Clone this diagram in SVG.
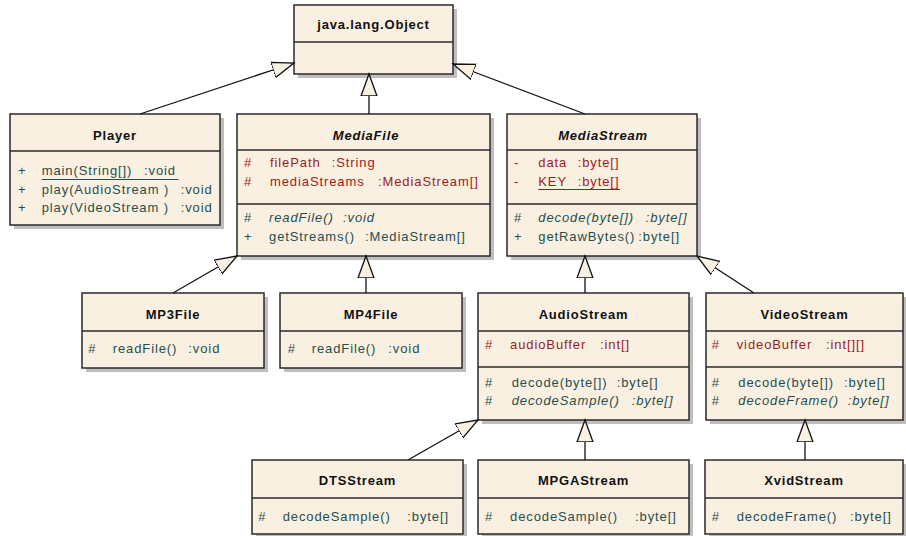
<svg xmlns="http://www.w3.org/2000/svg" width="906" height="536" viewBox="0 0 906 536">
<defs>
<style>
.sh{fill:#BEBEBE}
.bx{fill:#FAF0E1;stroke:#2A2A2A;stroke-width:1.5}
.dv{stroke:#2A2A2A;stroke-width:1.5}
.t{font-family:"Liberation Sans",Arial,sans-serif;font-size:13px;font-weight:bold;letter-spacing:0.8px;text-anchor:middle;fill:#111}
.ti{font-style:italic}
.a{font-family:"Liberation Sans",Arial,sans-serif;font-size:13px;letter-spacing:0.9px;fill:#9E1B1B}
.o{font-family:"Liberation Sans",Arial,sans-serif;font-size:13px;letter-spacing:0.9px;fill:#1F4F4E}
.i{font-style:italic}
.ua{stroke:#9E1B1B;stroke-width:1.2}
.uo{stroke:#1F4F4E;stroke-width:1.2}
.c line{stroke:#111;stroke-width:1.3;marker-end:url(#gen)}
</style>
<marker id="gen" markerUnits="userSpaceOnUse" markerWidth="24" markerHeight="18" refX="22" refY="9" orient="auto">
<path d="M0,1 L22,9 L0,17 Z" fill="#FAF0E1" stroke="#111" stroke-width="1.3"/>
</marker>
</defs>
<rect width="906" height="536" fill="#fff"/>

<g id="Object">
<rect class="sh" x="298" y="9" width="159" height="69"/>
<rect class="bx" x="294" y="5" width="159" height="69"/>
<line class="dv" x1="294" y1="42" x2="453" y2="42"/>
<text class="t" x="373.5" y="29">java.lang.Object</text>
</g>

<g id="Player">
<rect class="sh" x="14" y="118" width="210" height="111"/>
<rect class="bx" x="10" y="114" width="210" height="111"/>
<line class="dv" x1="10" y1="151" x2="220" y2="151"/>
<text class="t" x="115" y="139.5">Player</text>
<text class="o" y="175"><tspan x="18">+</tspan><tspan x="41.7">main(String[])</tspan><tspan x="144">:void</tspan></text>
<line class="uo" x1="41.7" y1="179.5" x2="178.5" y2="179.5"/>
<text class="o" y="193.5"><tspan x="18">+</tspan><tspan x="41.7">play(AudioStream )</tspan><tspan x="180.7">:void</tspan></text>
<text class="o" y="212"><tspan x="18">+</tspan><tspan x="41.7">play(VideoStream )</tspan><tspan x="180.7">:void</tspan></text>
</g>

<g id="MediaFile">
<rect class="sh" x="241" y="118" width="253" height="142"/>
<rect class="bx" x="237" y="114" width="253" height="142"/>
<line class="dv" x1="237" y1="150" x2="490" y2="150"/>
<line class="dv" x1="237" y1="204" x2="490" y2="204"/>
<text class="t ti" x="366" y="139.5">MediaFile</text>
<text class="a" y="167"><tspan x="244">#</tspan><tspan x="270">filePath</tspan><tspan x="331.7">:String</tspan></text>
<text class="a" y="185.5"><tspan x="244">#</tspan><tspan x="270">mediaStreams</tspan><tspan x="378">:MediaStream[]</tspan></text>
<text class="o" y="221.7"><tspan x="244">#</tspan><tspan class="i" x="269">readFile()</tspan><tspan class="i" x="343">:void</tspan></text>
<text class="o" y="240.7"><tspan x="244">+</tspan><tspan x="269">getStreams()</tspan><tspan x="365">:MediaStream[]</tspan></text>
</g>

<g id="MediaStream">
<rect class="sh" x="511" y="118" width="190" height="142"/>
<rect class="bx" x="507" y="114" width="190" height="142"/>
<line class="dv" x1="507" y1="150" x2="697" y2="150"/>
<line class="dv" x1="507" y1="204" x2="697" y2="204"/>
<text class="t ti" x="603" y="139.5">MediaStream</text>
<text class="a" y="167"><tspan x="514">-</tspan><tspan x="538.3">data</tspan><tspan x="577.7">:byte[]</tspan></text>
<text class="a" y="185.5"><tspan x="514">-</tspan><tspan x="538.3">KEY</tspan><tspan x="577.7">:byte[]</tspan></text>
<line class="ua" x1="538.3" y1="189.5" x2="620" y2="189.5"/>
<text class="o" y="221.7"><tspan x="514">#</tspan><tspan class="i" x="538.3">decode(byte[])</tspan><tspan class="i" x="645.7">:byte[]</tspan></text>
<text class="o" y="240.7"><tspan x="514">+</tspan><tspan x="538.3">getRawBytes()</tspan><tspan x="638.3">:byte[]</tspan></text>
</g>

<g id="MP3File">
<rect class="sh" x="86" y="297" width="182" height="75"/>
<rect class="bx" x="82" y="293" width="182" height="75"/>
<line class="dv" x1="82" y1="331" x2="264" y2="331"/>
<text class="t" x="173" y="319.3">MP3File</text>
<text class="o" y="353.3"><tspan x="88.3">#</tspan><tspan x="112.7">readFile()</tspan><tspan x="188.3">:void</tspan></text>
</g>

<g id="MP4File">
<rect class="sh" x="284" y="297" width="182" height="75"/>
<rect class="bx" x="280" y="293" width="182" height="75"/>
<line class="dv" x1="280" y1="331" x2="462" y2="331"/>
<text class="t" x="371" y="319.3">MP4File</text>
<text class="o" y="353.3"><tspan x="287.7">#</tspan><tspan x="311.7">readFile()</tspan><tspan x="388.3">:void</tspan></text>
</g>

<g id="AudioStream">
<rect class="sh" x="482" y="297" width="211" height="127"/>
<rect class="bx" x="478" y="293" width="211" height="127"/>
<line class="dv" x1="478" y1="331" x2="689" y2="331"/>
<line class="dv" x1="478" y1="367" x2="689" y2="367"/>
<text class="t" x="583.5" y="319.3">AudioStream</text>
<text class="a" y="349"><tspan x="485">#</tspan><tspan x="510">audioBuffer</tspan><tspan x="600">:int[]</tspan></text>
<text class="o" y="386.7"><tspan x="485">#</tspan><tspan x="511.7">decode(byte[])</tspan><tspan x="616.7">:byte[]</tspan></text>
<text class="o" y="405"><tspan x="485">#</tspan><tspan class="i" x="511.7">decodeSample()</tspan><tspan class="i" x="631.7">:byte[]</tspan></text>
</g>

<g id="VideoStream">
<rect class="sh" x="710" y="297" width="197" height="127"/>
<rect class="bx" x="706" y="293" width="197" height="127"/>
<line class="dv" x1="706" y1="331" x2="903" y2="331"/>
<line class="dv" x1="706" y1="367" x2="903" y2="367"/>
<text class="t" x="804.5" y="319.3">VideoStream</text>
<text class="a" y="349"><tspan x="711.7">#</tspan><tspan x="736.7">videoBuffer</tspan><tspan x="826">:int[][]</tspan></text>
<text class="o" y="386.7"><tspan x="711.7">#</tspan><tspan x="738.3">decode(byte[])</tspan><tspan x="844">:byte[]</tspan></text>
<text class="o" y="405"><tspan x="711.7">#</tspan><tspan class="i" x="738.3">decodeFrame()</tspan><tspan class="i" x="847.7">:byte[]</tspan></text>
</g>

<g id="DTSStream">
<rect class="sh" x="256" y="464" width="211" height="74"/>
<rect class="bx" x="252" y="460" width="211" height="74"/>
<line class="dv" x1="252" y1="498" x2="463" y2="498"/>
<text class="t" x="357.5" y="485">DTSStream</text>
<text class="o" y="520.7"><tspan x="258.3">#</tspan><tspan x="282.7">decodeSample()</tspan><tspan x="407.3">:byte[]</tspan></text>
</g>

<g id="MPGAStream">
<rect class="sh" x="482" y="464" width="211" height="74"/>
<rect class="bx" x="478" y="460" width="211" height="74"/>
<line class="dv" x1="478" y1="498" x2="689" y2="498"/>
<text class="t" x="583.5" y="485">MPGAStream</text>
<text class="o" y="520.7"><tspan x="485">#</tspan><tspan x="510">decodeSample()</tspan><tspan x="635">:byte[]</tspan></text>
</g>

<g id="XvidStream">
<rect class="sh" x="709" y="464" width="198" height="74"/>
<rect class="bx" x="705" y="460" width="198" height="74"/>
<line class="dv" x1="705" y1="498" x2="903" y2="498"/>
<text class="t" x="804" y="485">XvidStream</text>
<text class="o" y="520.7"><tspan x="711.7">#</tspan><tspan x="736.7">decodeFrame()</tspan><tspan x="850">:byte[]</tspan></text>
</g>

<g id="connectors" class="c">
<line x1="140" y1="114" x2="294" y2="63"/>
<line x1="369" y1="114" x2="369" y2="74"/>
<line x1="585" y1="114" x2="453" y2="64"/>
<line x1="173" y1="293" x2="237" y2="256"/>
<line x1="366" y1="293" x2="366" y2="256"/>
<line x1="585" y1="293" x2="585" y2="256"/>
<line x1="754" y1="293" x2="697" y2="256"/>
<line x1="408" y1="460" x2="478" y2="420"/>
<line x1="585" y1="460" x2="585" y2="420"/>
<line x1="805" y1="460" x2="805" y2="420"/>
</g>
</svg>
